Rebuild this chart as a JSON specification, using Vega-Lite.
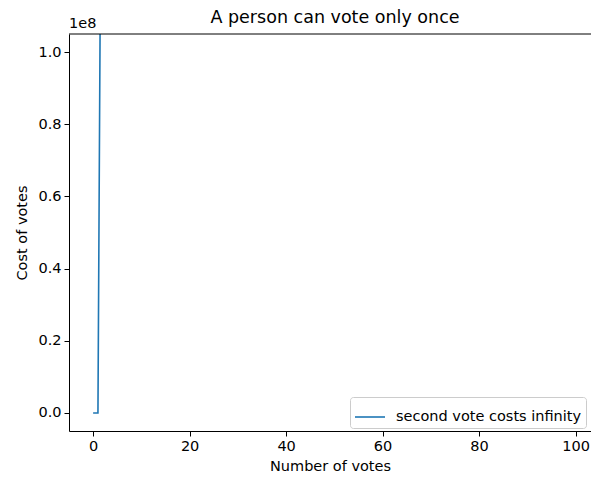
{
  "$schema": "https://vega.github.io/schema/vega-lite/v6.json",
  "width": 522,
  "height": 397,
  "autosize": {"type": "none"},
  "padding": {"left": 69, "top": 34, "right": 0, "bottom": 46},
  "background": "white",
  "config": {
    "font": "DejaVu Sans",
    "view": {"stroke": null},
    "axis": {
      "domainColor": "black",
      "domainWidth": 1,
      "tickColor": "black",
      "tickSize": 5,
      "tickWidth": 1,
      "labelColor": "black",
      "labelFontSize": 14.5,
      "labelFont": "DejaVu Sans",
      "titleFont": "DejaVu Sans",
      "titleFontSize": 14.5,
      "titleFontWeight": "normal",
      "titleColor": "black",
      "grid": false,
      "labelPadding": 3
    }
  },
  "title": {
    "text": "A person can vote only once",
    "font": "DejaVu Sans",
    "fontSize": 17.5,
    "fontWeight": "normal",
    "color": "black",
    "anchor": "middle",
    "offset": -10,
    "dx": 5
  },
  "layer": [
    {
      "data": {
        "values": [
          {"votes": 0, "cost": 0, "series": "second vote costs infinity"},
          {"votes": 1, "cost": 0, "series": "second vote costs infinity"},
          {"votes": 2, "cost": 240000000, "series": "second vote costs infinity"}
        ]
      },
      "mark": {"type": "line", "strokeWidth": 1.6, "clip": true},
      "encoding": {
        "x": {
          "field": "votes",
          "type": "quantitative",
          "scale": {"domain": [-5, 103.2], "nice": false, "zero": false},
          "axis": {"values": [0, 20, 40, 60, 80, 100], "title": "Number of votes", "titlePadding": 7}
        },
        "y": {
          "field": "cost",
          "type": "quantitative",
          "scale": {"domain": [-5000000, 105000000], "nice": false, "zero": false},
          "axis": {
            "values": [0, 20000000, 40000000, 60000000, 80000000, 100000000],
            "labelExpr": "format(datum.value/1e8, '.1f')",
            "title": "Cost of votes",
            "titlePadding": 8
          }
        },
        "color": {
          "field": "series",
          "type": "nominal",
          "scale": {"domain": ["second vote costs infinity"], "range": ["#1f77b4"]},
          "legend": {
            "title": null,
            "orient": "none",
            "legendX": 281,
            "legendY": 363,
            "symbolType": "stroke",
            "symbolSize": 900,
            "symbolStrokeWidth": 1.6,
            "labelFontSize": 14.5,
            "labelFont": "DejaVu Sans",
            "labelColor": "black",
            "labelLimit": 0,
            "labelOffset": 10,
            "strokeColor": "#cccccc",
            "fillColor": "white",
            "cornerRadius": 3,
            "padding": 4
          }
        }
      }
    },
    {
      "data": {"values": [{"spine": "top", "ypos": 105000000}]},
      "mark": {"type": "rule", "color": "black", "strokeWidth": 1},
      "encoding": {"y": {"field": "ypos", "type": "quantitative"}}
    },
    {
      "data": {"values": [{"label": "1e8", "xpos": -5, "ypos": 105000000}]},
      "mark": {"type": "text", "align": "left", "baseline": "bottom", "dy": -3, "fontSize": 14.5, "fontWeight": "normal", "font": "DejaVu Sans", "color": "black"},
      "encoding": {
        "x": {"field": "xpos", "type": "quantitative"},
        "y": {"field": "ypos", "type": "quantitative"},
        "text": {"field": "label"}
      }
    }
  ]
}
